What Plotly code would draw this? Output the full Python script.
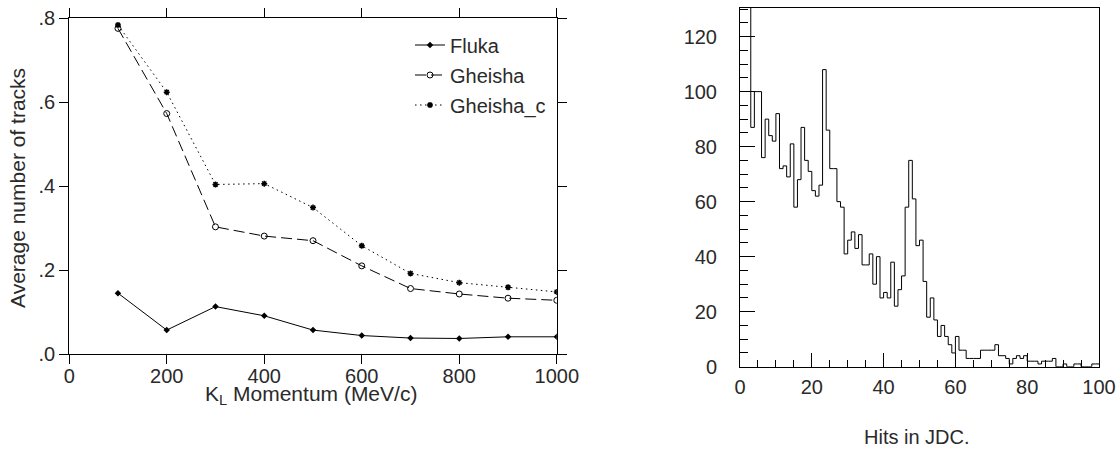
import plotly.graph_objects as go

# ---- left panel data ----
momentum = [100, 200, 300, 400, 500, 600, 700, 800, 900, 1000]
fluka = [0.145, 0.057, 0.113, 0.091, 0.057, 0.044, 0.038, 0.037, 0.041, 0.041]
gheisha = [0.776, 0.573, 0.303, 0.281, 0.270, 0.210, 0.156, 0.143, 0.133, 0.128]
gheisha_c = [0.784, 0.624, 0.404, 0.406, 0.349, 0.258, 0.192, 0.170, 0.159, 0.148]
left_xticks = [0, 200, 400, 600, 800, 1000]
left_yticks = [0.0, 0.2, 0.4, 0.6, 0.8]
left_yticklabels = [".0", ".2", ".4", ".6", ".8"]

# ---- right panel data (hits in JDC, bins of width 1 from 0 to 100) ----
hit_bin_edges = list(range(0, 101))
hit_counts = [
    180, 160, 140, 87, 100, 100, 76, 90, 84, 82,
    92, 72, 73, 69, 81, 58, 68, 87, 75, 71,
    64, 62, 66, 108, 86, 72, 72, 60, 58, 41,
    46, 49, 43, 48, 37, 37, 41, 30, 40, 25,
    27, 25, 38, 22, 28, 33, 58, 75, 61, 44,
    46, 31, 18, 25, 17, 11, 15, 11, 8, 5,
    11, 6, 6, 3, 3, 3, 3, 6, 6, 6,
    6, 8, 4, 4, 3, 1, 3, 4, 3, 4,
    2, 2, 2, 1, 2, 2, 2, 3, 0, 0,
    1, 0, 0, 1, 1, 0, 0, 0, 1, 1,
]
right_xticks = [0, 20, 40, 60, 80, 100]
right_yticks = [0, 20, 40, 60, 80, 100, 120]

W, H = 1120, 449
FONT = "Liberation Sans"
TXT = "#2a2a2a"

def px(x):
    return x / W

def py(y):
    return 1 - y / H

fig = go.Figure()

fig.add_trace(go.Scatter(
    x=momentum, y=fluka, name="Fluka", mode="lines+markers",
    line=dict(color="black", width=1),
    marker=dict(symbol="diamond", size=5, color="black"),
    xaxis="x", yaxis="y", legendgroup="a"))
fig.add_trace(go.Scatter(
    x=momentum, y=gheisha, name="Gheisha", mode="lines+markers",
    line=dict(color="black", width=1, dash="11px,5px"),
    marker=dict(symbol="circle-open", size=6, color="black", line=dict(width=1)),
    xaxis="x", yaxis="y", legendgroup="b"))
fig.add_trace(go.Scatter(
    x=momentum, y=gheisha_c, name="Gheisha_c", mode="lines+markers",
    line=dict(color="black", width=1, dash="1.5px,3.5px"),
    marker=dict(symbol="asterisk-open", size=5, color="black", line=dict(width=1.5, color="black")),
    xaxis="x", yaxis="y", legendgroup="c"))

fig.add_trace(go.Scatter(
    x=hit_bin_edges, y=hit_counts + [hit_counts[-1]],
    mode="lines", line=dict(color="black", width=1, shape="hv"),
    showlegend=False, xaxis="x2", yaxis="y2"))

axis_common = dict(showgrid=False, zeroline=False, showline=True, automargin=False,
                   linecolor="black", linewidth=1, tickcolor="black", tickwidth=1,
                   tickfont=dict(family=FONT, size=20, color=TXT))

fig.update_layout(
    width=W, height=H, autosize=False,
    margin=dict(l=0, r=0, t=0, b=0, pad=0, autoexpand=False),
    paper_bgcolor="white", plot_bgcolor="white",
    font=dict(family=FONT, size=20, color=TXT),
    xaxis=dict(domain=[px(69.2), px(556.8)], range=[0, 1000],
               tickvals=left_xticks, ticks="outside", ticklen=9, mirror="ticks",
               ticklabelstandoff=-5,
               anchor="y", **axis_common),
    yaxis=dict(domain=[py(354), py(18.3)], range=[0, 0.8],
               tickvals=left_yticks, ticktext=left_yticklabels,
               ticks="outside", ticklen=9, mirror="ticks", anchor="x", **axis_common),
    xaxis2=dict(domain=[px(740), px(1099)], range=[0, 100],
                tickvals=right_xticks, ticks="inside", ticklen=14, mirror=True,
                ticklabelstandoff=2,
                minor=dict(dtick=5, tick0=0, ticks="inside", ticklen=7,
                           tickcolor="black", tickwidth=1, showgrid=False),
                anchor="y2", **axis_common),
    yaxis2=dict(domain=[py(366.7), py(8)], range=[0, 130.4],
                tickvals=right_yticks, ticks="inside", ticklen=15, mirror=True,
                ticklabelstandoff=18,
                minor=dict(dtick=5, tick0=0, ticks="inside", ticklen=8,
                           tickcolor="black", tickwidth=1, showgrid=False),
                anchor="x2", **axis_common),
    legend=dict(x=px(410), y=py(25.5), xanchor="left", yanchor="top",
                bgcolor="rgba(0,0,0,0)", borderwidth=0,
                font=dict(family=FONT, size=20, color=TXT),
                traceorder="grouped", tracegroupgap=1),
    showlegend=True,
    annotations=[
        dict(text="Average number of tracks", textangle=-90,
             x=px(17.5), y=py(188.5), xref="paper", yref="paper",
             xanchor="center", yanchor="middle",
             showarrow=False, font=dict(family=FONT, size=21, color=TXT)),
        dict(text="K<sub>L</sub> Momentum (MeV/c)",
             x=px(311), y=py(395), xref="paper", yref="paper",
             xanchor="center", yanchor="middle",
             showarrow=False, font=dict(family=FONT, size=21, color=TXT)),
        dict(text="Hits in JDC.",
             x=px(917), y=py(437), xref="paper", yref="paper",
             xanchor="center", yanchor="middle",
             showarrow=False, font=dict(family=FONT, size=20, color=TXT)),
    ],
)

fig.write_html("out.html")
